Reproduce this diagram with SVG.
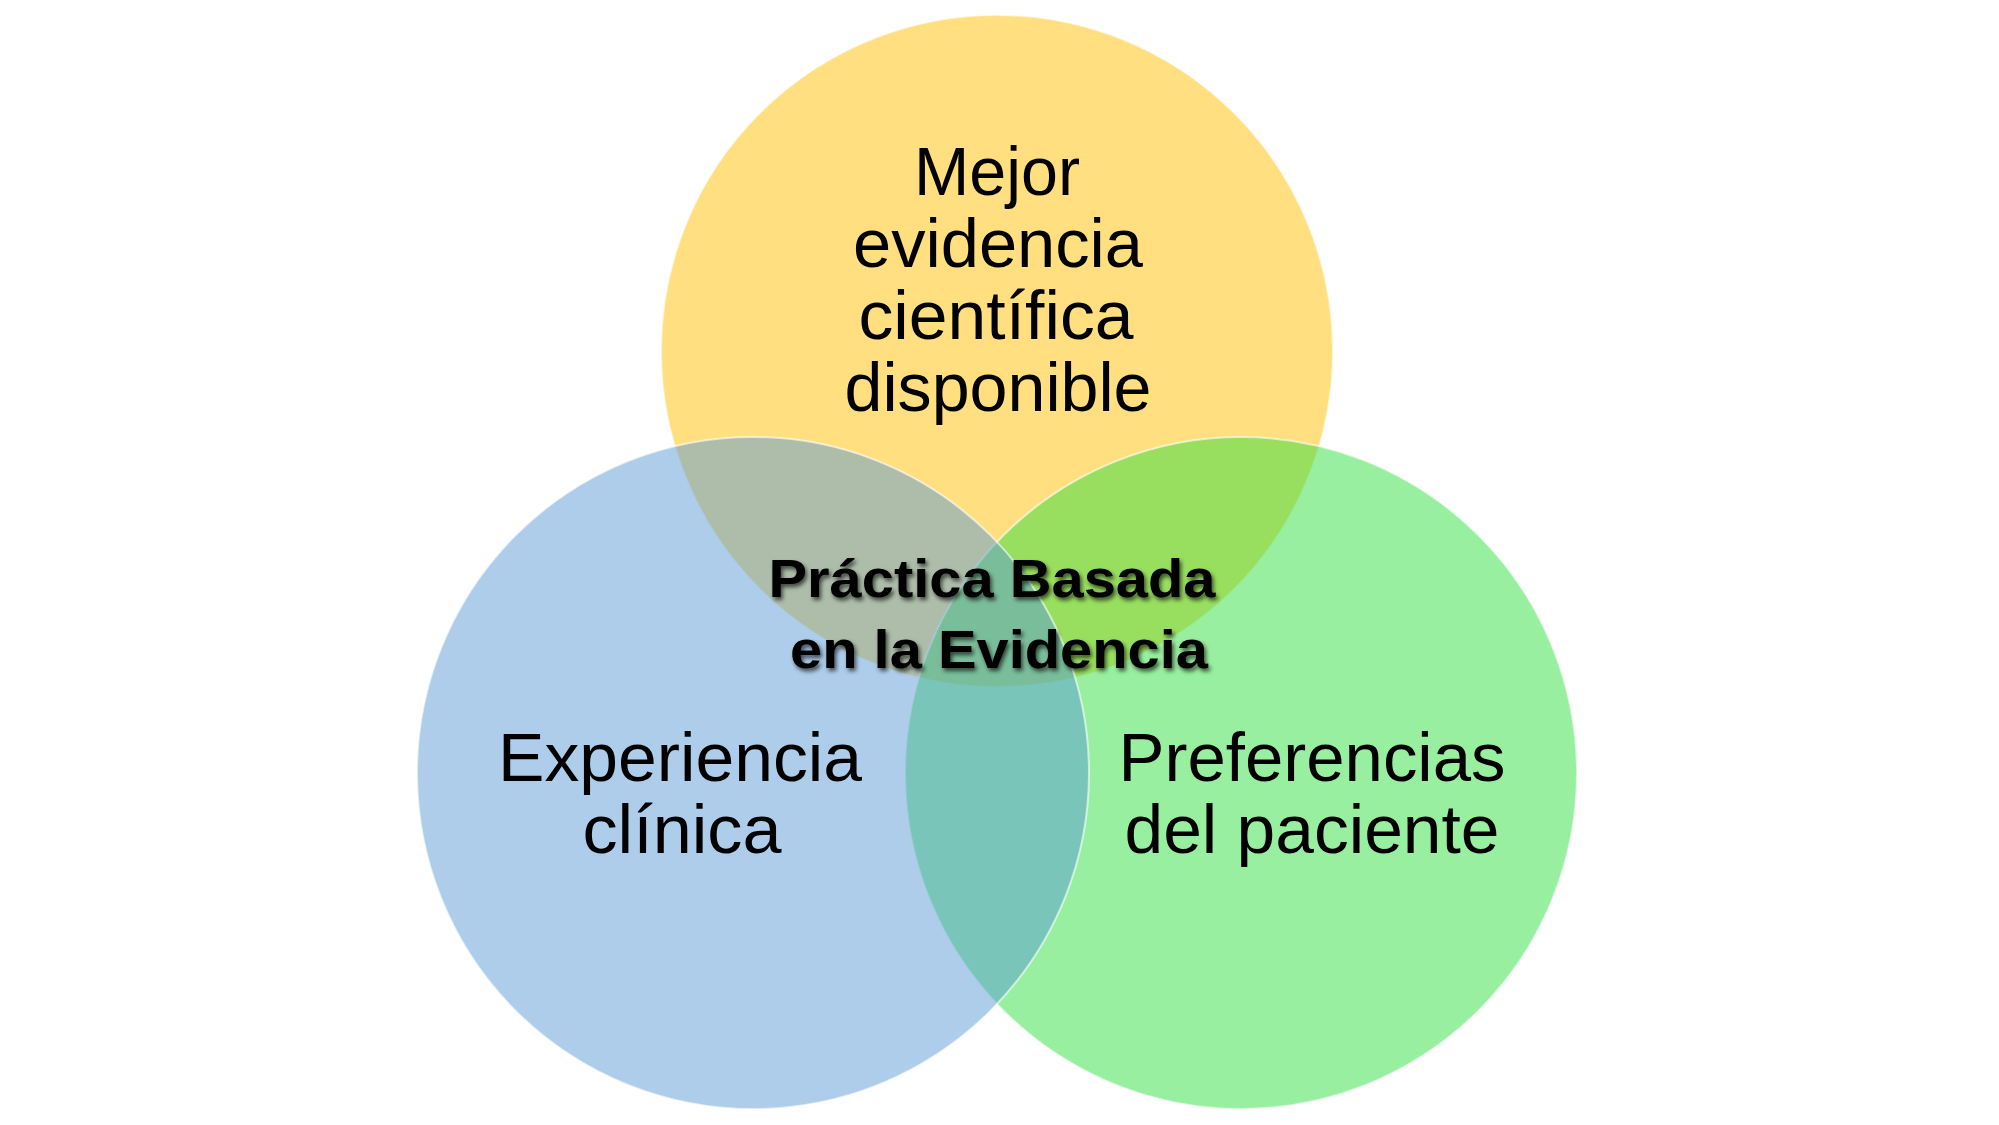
<svg xmlns="http://www.w3.org/2000/svg" width="1999" height="1125" viewBox="0 0 1999 1125">
  <defs>
    <style>
      .circ { fill-opacity: 0.5; stroke: #ffffff; stroke-width: 2; stroke-opacity: 0.6; }
      .lbl { font-family: "Liberation Sans", Arial, sans-serif; font-size: 68px; fill: #000000; text-anchor: middle; }
      .ctr { font-family: "Liberation Sans", Arial, sans-serif; font-size: 54px; font-weight: bold; fill: #000000; text-anchor: middle; }
    </style>
    <filter id="shadow" x="-10%" y="-30%" width="120%" height="160%">
      <feDropShadow dx="2" dy="3" stdDeviation="2.2" flood-color="#000000" flood-opacity="0.65"/>
    </filter>
  </defs>
  <rect x="0" y="0" width="1999" height="1125" fill="#ffffff"/>

  <g id="node-evidencia">
    <circle class="circ" cx="997" cy="351" r="336" fill="#FFC000"/>
  </g>
  <g id="node-preferencias">
    <circle class="circ" cx="1241" cy="773" r="336" fill="#31DF3F"/>
  </g>
  <g id="node-experiencia">
    <circle class="circ" cx="753" cy="773" r="336" fill="#5B9BD5"/>
  </g>

  <g id="connectors"></g>

  <g id="label-evidencia">
    <text class="lbl" x="997" y="195" textLength="166" lengthAdjust="spacingAndGlyphs">Mejor</text>
    <text class="lbl" x="998" y="267" textLength="290" lengthAdjust="spacingAndGlyphs">evidencia</text>
    <text class="lbl" x="996" y="339" textLength="275" lengthAdjust="spacingAndGlyphs">científica</text>
    <text class="lbl" x="998" y="411" textLength="307" lengthAdjust="spacingAndGlyphs">disponible</text>
  </g>
  <g id="label-experiencia">
    <text class="lbl" x="680" y="781" textLength="364" lengthAdjust="spacingAndGlyphs">Experiencia</text>
    <text class="lbl" x="682" y="853" textLength="199" lengthAdjust="spacingAndGlyphs">clínica</text>
  </g>
  <g id="label-preferencias">
    <text class="lbl" x="1312" y="781" textLength="387" lengthAdjust="spacingAndGlyphs">Preferencias</text>
    <text class="lbl" x="1312" y="853" textLength="375" lengthAdjust="spacingAndGlyphs">del paciente</text>
  </g>
  <g id="node-center" filter="url(#shadow)">
    <text class="ctr" x="992" y="597" textLength="447" lengthAdjust="spacingAndGlyphs">Práctica Basada</text>
    <text class="ctr" x="999" y="668" textLength="418" lengthAdjust="spacingAndGlyphs">en la Evidencia</text>
  </g>
</svg>
